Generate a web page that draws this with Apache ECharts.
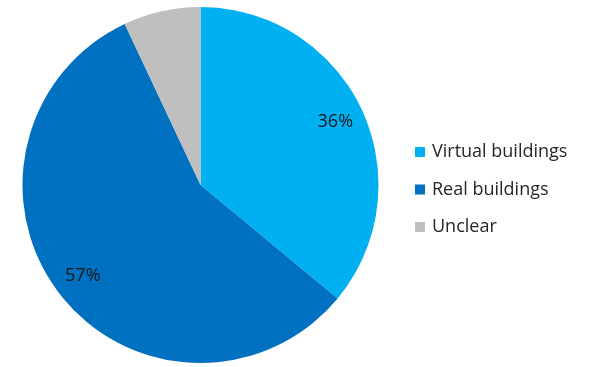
<!DOCTYPE html>
<html>
<head>
<meta charset="utf-8">
<script src="https://cdn.jsdelivr.net/npm/echarts@6/dist/echarts.min.js"></script>
<style>
  html, body { margin: 0; padding: 0; background: #fff; }
  #chart { width: 590px; height: 367px; }
</style>
</head>
<body>
<div id="chart"></div>
<script>
// Share of buildings by type
const categories = ['Virtual buildings', 'Real buildings', 'Unclear'];
const shares = [36, 57, 7];
const colors = ['#00B0F0', '#0070C0', '#BFBFBF'];
const showLabel = [true, true, false];

const FONT = '"Open Sans", "Liberation Sans", sans-serif';
const center = [200.5, 185];
const R = 178;

const pieData = categories.map((name, i) => ({
  name,
  value: shares[i],
  itemStyle: { color: colors[i] }
}));

// Transparent ring used only to place the percentage labels further out
const labelData = categories.map((name, i) => ({
  name,
  value: shares[i],
  itemStyle: { color: 'rgba(0,0,0,0)' },
  label: { show: showLabel[i] }
}));

const chart = echarts.init(document.getElementById('chart'), null, { renderer: 'canvas' });
chart.setOption({
  animation: false,
  backgroundColor: '#ffffff',
  legend: {
    orient: 'vertical',
    left: 415,
    top: 143,
    icon: 'rect',
    itemWidth: 10,
    itemHeight: 10,
    itemGap: 19.5,
    padding: 0,
    selectedMode: false,
    data: categories.map((name, i) => ({ name, itemStyle: { color: colors[i] } })),
    textStyle: { fontFamily: FONT, fontSize: 18, lineHeight: 18, color: '#262626', padding: [0, 0, 0, 2] }
  },
  series: [
    {
      type: 'pie',
      center,
      radius: [0, R],
      startAngle: 90,
      clockwise: true,
      silent: true,
      data: pieData,
      label: { show: false },
      labelLine: { show: false }
    },
    {
      type: 'pie',
      center,
      radius: [R * 0.64, R],
      startAngle: 90,
      clockwise: true,
      silent: true,
      data: labelData,
      label: {
        show: true,
        position: 'inside',
        formatter: '{c}%',
        fontFamily: FONT,
        fontSize: 18,
        color: '#1a1a1a'
      },
      labelLine: { show: false }
    }
  ]
});
</script>
</body>
</html>
